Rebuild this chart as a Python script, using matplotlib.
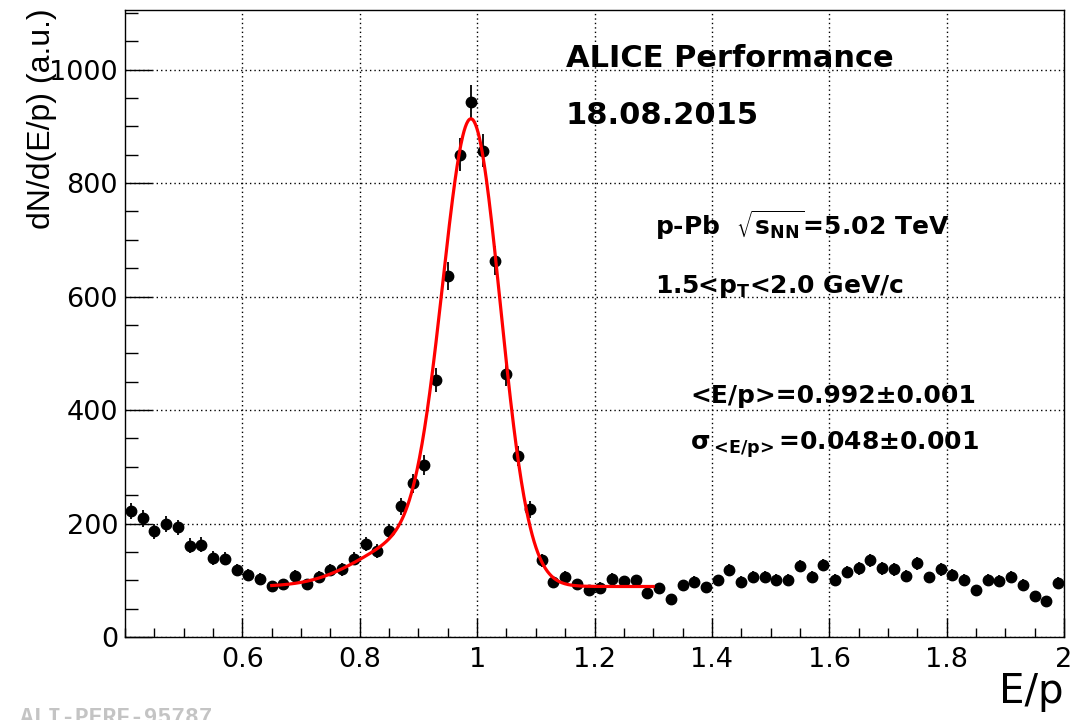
import numpy as np
import matplotlib
matplotlib.use('Agg')
import matplotlib.pyplot as plt
from matplotlib.ticker import MultipleLocator, FixedLocator

# histogram binning (E/p), 80 bins of width 0.02 from 0.4 to 2.0
bin_lo = 0.4
bin_hi = 2.0
bin_width = 0.02
counts = [222, 209, 186, 199, 193, 161, 163, 139, 138, 118,
          109, 103, 90, 93, 108, 93, 106, 118, 119, 138,
          164, 151, 186, 230, 271, 303, 453, 636, 850, 942,
          857, 663, 463, 319, 225, 135, 97, 106, 93, 83,
          87, 102, 98, 100, 78, 86, 67, 91, 97, 88,
          100, 118, 97, 106, 106, 101, 101, 125, 106, 127,
          101, 115, 121, 135, 121, 119, 108, 130, 105, 119,
          109, 101, 83, 101, 99, 106, 92, 72, 64, 96]

# fit: gaussian signal + constant and a broad left bump as background
fit_range = (0.65, 1.30)
sig_amp = 788
sig_mean = 0.991
sig_sigma = 0.049
bg_const = 89
bump_amp = 78
bump_mean = 0.885
bump_sigma = 0.085

xtick_vals = [0.6, 0.8, 1.0, 1.2, 1.4, 1.6, 1.8, 2.0]
xtick_labels = ['0.6', '0.8', '1', '1.2', '1.4', '1.6', '1.8', '2']
ytick_vals = [0, 200, 400, 600, 800, 1000]

centers = np.arange(bin_lo + bin_width / 2, bin_hi, bin_width)
counts = np.array(counts, dtype=float)
errors = np.sqrt(counts)


def fit_func(x):
    sig = sig_amp * np.exp(-0.5 * ((x - sig_mean) / sig_sigma) ** 2)
    bump = bump_amp * np.exp(-0.5 * ((x - bump_mean) / bump_sigma) ** 2)
    return sig + bump + bg_const


fig = plt.figure(figsize=(10.74, 7.2), dpi=100)
ax = fig.add_axes([125 / 1074, 83 / 720, 939 / 1074, 627 / 720])

ax.errorbar(centers, counts, yerr=errors, fmt='o', color='black', ms=7.5,
            elinewidth=1.3, capsize=0, zorder=3)

xf = np.linspace(fit_range[0], fit_range[1], 600)
ax.plot(xf, fit_func(xf), color='red', lw=2.3, zorder=4)

ax.set_xlim(bin_lo, bin_hi)
ax.set_ylim(0, 1105)

ax.xaxis.set_major_locator(FixedLocator(xtick_vals))
ax.set_xticklabels(xtick_labels)
ax.xaxis.set_minor_locator(MultipleLocator(0.05))
ax.yaxis.set_major_locator(FixedLocator(ytick_vals))
ax.yaxis.set_minor_locator(MultipleLocator(50))

ax.tick_params(axis='both', which='both', direction='in', top=False, right=False,
               labelsize=19.5, width=1.0, color='black')
ax.tick_params(axis='x', which='major', length=13.7, pad=7)
ax.tick_params(axis='x', which='minor', length=6.8)
ax.tick_params(axis='y', which='major', length=19.4, pad=5)
ax.tick_params(axis='y', which='minor', length=9.7)

for s in ax.spines.values():
    s.set_linewidth(1.0)

ax.grid(True, which='major', color='black', linestyle=(0, (1, 2.2)), linewidth=1.0)

ax.set_ylabel('dN/d(E/p) (a.u.)', fontsize=23, family='Liberation Sans', loc='top')
ax.yaxis.set_label_coords(-0.072, 1.003)
ax.set_xlabel('E/p', fontsize=29, loc='right')
ax.xaxis.set_label_coords(1.0, -0.056)

tr = ax.transAxes
ax.text(0.4696, 0.909, 'ALICE Performance', transform=tr, fontsize=22,
        fontweight='bold', va='baseline')
ax.text(0.4696, 0.818, '18.08.2015', transform=tr, fontsize=22,
        fontweight='bold', va='baseline')
ax.text(0.5644, 0.641, r'p-Pb  $\mathbf{\sqrt{s_{NN}}}$=5.02 TeV', transform=tr,
        fontsize=18, fontweight='bold', va='baseline')
ax.text(0.5644, 0.548, r'1.5<$\mathbf{p_{T}}$<2.0 GeV/c', transform=tr,
        fontsize=18, fontweight='bold', va='baseline')
ax.text(0.6017, 0.3727, '<E/p>=0.992\u00b10.001', transform=tr,
        fontsize=18, fontweight='bold', va='baseline')
ax.text(0.6017, 0.298,
        '\u03c3' + r'${}_{\mathbf{<}\!\mathbf{E/p}\!\mathbf{>}}$' + '=0.048\u00b10.001',
        transform=tr, fontsize=18, fontweight='bold', va='baseline')

fig.text(20 / 1074, 1 - 706 / 720, 'ALI-PERF-95787', family='Liberation Mono',
         fontweight='bold', color='#c4c4c4', fontsize=16.5, va='top')

fig.savefig('out.png', dpi=100)
